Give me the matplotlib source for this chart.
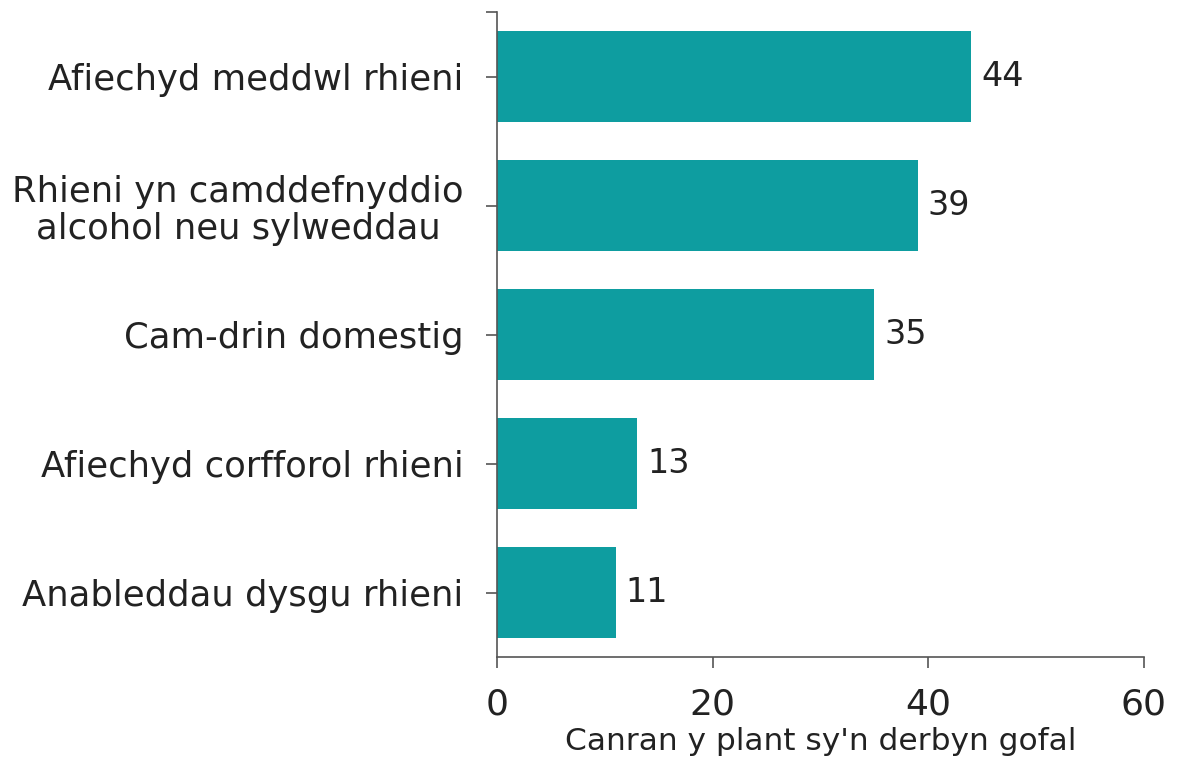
import matplotlib
matplotlib.use('Agg')
from matplotlib import pyplot as plt

# data
categories = ['Afiechyd meddwl rhieni',
              'Rhieni yn camddefnyddio\nalcohol neu sylweddau',
              'Cam-drin domestig',
              'Afiechyd corfforol rhieni',
              'Anableddau dysgu rhieni']
values = [44, 39, 35, 13, 11]
x_ticks = [0, 20, 40, 60]

plt.rcParams['font.family'] = ['DejaVu Sans']

fig = plt.figure(figsize=(11.78, 7.57), dpi=100)
ax = fig.add_axes([0.4219, 0.1321, 0.5492, 0.852])

pos = list(range(len(categories)))
ax.barh(pos, values, height=0.71, color='#0E9DA0')

# value labels
for p, v in zip(pos, values):
    ax.text(v + 0.9, p, str(v), va='center', ha='left', fontsize=24, color='#222222')

ax.set_ylim(4.5, -0.5)
ax.set_xlim(0, 60)

# extra tick at the top edge, as in the original
ax.set_yticks(pos + [-0.5])
ax.set_yticklabels(categories + [''], fontsize=25.5, color='#222222',
                   linespacing=1.1, multialignment='center')
ax.set_xticks(x_ticks)
ax.set_xticklabels([str(t) for t in x_ticks], fontsize=26, color='#222222')

ax.tick_params(axis='y', length=8, width=1.2, color='#555555', pad=16)
ax.tick_params(axis='x', length=8, width=1.2, color='#555555', pad=14)

ax.set_xlabel("Canran y plant sy'n derbyn gofal", fontsize=22.5, color='#222222', labelpad=4)

for side in ['top', 'right']:
    ax.spines[side].set_visible(False)
for side in ['left', 'bottom']:
    ax.spines[side].set_color('#555555')
    ax.spines[side].set_linewidth(1.2)

plt.savefig('out.png', dpi=100)
